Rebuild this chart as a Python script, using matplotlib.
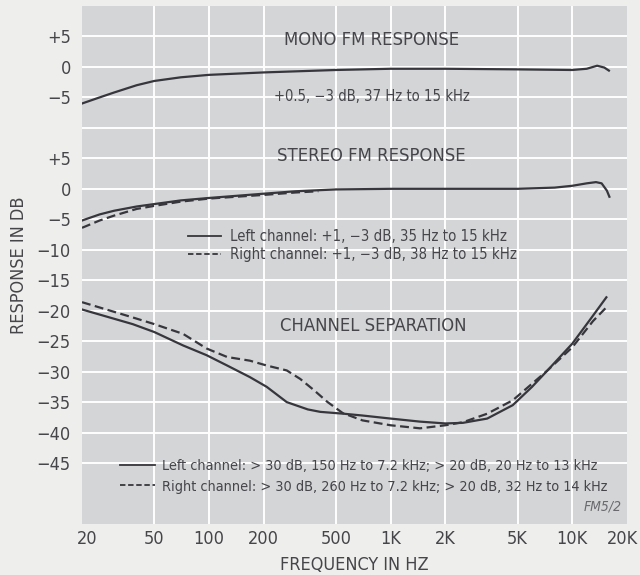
import numpy as np
import matplotlib
matplotlib.use("Agg")
import matplotlib.pyplot as plt
from matplotlib.lines import Line2D
from matplotlib.transforms import ScaledTranslation

plt.rcParams['font.family'] = ['Liberation Sans Narrow', 'DejaVu Sans']
plt.rcParams['font.stretch'] = 'condensed'
plt.rcParams['axes.unicode_minus'] = True

# --- data (frequency in Hz, response in dB) ---
mono_freq = [20, 25, 30, 40, 50, 70, 100, 200, 500, 1000, 2000, 5000, 10000, 12000, 13700, 15000, 15900]
mono_db = [-6.0, -5.0, -4.2, -3.0, -2.3, -1.7, -1.3, -0.9, -0.5, -0.3, -0.3, -0.4, -0.5, -0.3, 0.2, -0.1, -0.6]

stereo_left_freq = [20, 25, 30, 40, 50, 70, 100, 200, 300, 500, 1000, 2000, 5000, 8000, 10000, 12000, 13500, 14500, 15500, 16000]
stereo_left_db = [-5.2, -4.2, -3.6, -2.9, -2.5, -1.9, -1.5, -0.8, -0.4, -0.1, 0.0, 0.0, 0.0, 0.2, 0.5, 0.9, 1.1, 0.9, -0.3, -1.3]
stereo_right_freq = [20, 25, 30, 40, 50, 70, 100, 200, 300, 400]
stereo_right_db = [-6.4, -5.2, -4.4, -3.3, -2.8, -2.1, -1.6, -1.0, -0.6, -0.4]

sep_left_freq = [20, 38, 50, 72, 97, 126, 168, 208, 268, 350, 410, 550, 700, 1000, 1450, 2000, 2500, 3400, 4700, 6000, 7300, 10000, 12500, 15400]
sep_left_db = [-19.8, -22.2, -23.5, -25.7, -27.3, -29.0, -30.9, -32.5, -35.0, -36.2, -36.6, -36.9, -37.2, -37.7, -38.2, -38.5, -38.4, -37.7, -35.5, -32.5, -29.8, -25.4, -21.5, -17.8]
sep_right_freq = [20, 38, 50, 72, 97, 126, 168, 208, 268, 318, 377, 450, 545, 700, 1000, 1450, 2000, 2500, 3400, 4700, 7300, 10000, 13000, 15800]
sep_right_db = [-18.6, -21.1, -22.2, -23.8, -26.2, -27.6, -28.2, -29.0, -29.8, -31.2, -33.0, -35.0, -36.8, -38.0, -38.8, -39.3, -38.8, -38.3, -36.9, -34.7, -29.8, -26.0, -21.7, -19.1]

mono_offset = 20  # mono panel is stacked 20 dB above the stereo one

x_ticks = [20, 50, 100, 200, 500, 1000, 2000, 5000, 10000, 20000]
x_labels = ["20", "50", "100", "200", "500", "1K", "2K", "5K", "10K", "20K"]
y_ticks = [25, 20, 15, 5, 0, -5, -10, -15, -20, -25, -30, -35, -40, -45]
y_labels = ["+5", "0", "\u22125", "+5", "0", "\u22125", "\u221210", "\u221215", "\u221220",
            "\u221225", "\u221230", "\u221235", "\u221240", "\u221245"]

BG = "#eeeeec"
PLOT_BG = "#d3d5d6"
INK = "#36363c"
TEXT = "#45454a"

fig = plt.figure(figsize=(6.4, 5.75), dpi=100, facecolor=BG)
ax = fig.add_axes([82 / 640, 1 - 524 / 575, 545 / 640, 518 / 575])
ax.set_facecolor(PLOT_BG)
ax.set_xscale('log')
ax.set_xlim(20, 20000)
ax.set_ylim(-55, 30)

# white grid
for f in x_ticks[1:-1]:
    ax.axvline(f, color='white', lw=1.4, zorder=1)
for y in range(-45, 30, 5):
    ax.axhline(y, color='white', lw=1.4, zorder=1)

ax.plot(mono_freq, np.array(mono_db) + mono_offset, color=INK, lw=1.6, zorder=3)
ax.plot(stereo_left_freq, stereo_left_db, color=INK, lw=1.6, zorder=3)
ax.plot(stereo_right_freq, stereo_right_db, color=INK, lw=1.6, ls=(0, (4, 2)), zorder=3)
ax.plot(sep_left_freq, sep_left_db, color=INK, lw=1.6, zorder=3)
ax.plot(sep_right_freq, sep_right_db, color=INK, lw=1.6, ls=(0, (4, 2)), zorder=3)

ax.set_xticks(x_ticks)
ax.set_xticklabels(x_labels)
ax.xaxis.set_minor_locator(matplotlib.ticker.NullLocator())
ax.set_yticks(y_ticks)
ax.set_yticklabels(y_labels)
ax.tick_params(axis='both', length=0, labelsize=13, colors=TEXT)
ax.tick_params(axis='y', pad=8)
ax.tick_params(axis='x', pad=4)
for s in ax.spines.values():
    s.set_visible(False)

# end labels sit slightly inside the axis ends
xt = ax.get_xticklabels()
xt[0].set_transform(xt[0].get_transform() + ScaledTranslation(5 / 100, 0, fig.dpi_scale_trans))
xt[-1].set_transform(xt[-1].get_transform() + ScaledTranslation(-4 / 100, 0, fig.dpi_scale_trans))

ax.set_xlabel("FREQUENCY IN HZ", fontsize=13, color=TEXT, labelpad=6)
ax.set_ylabel("RESPONSE IN DB", fontsize=13, color=TEXT, labelpad=6)

# panel titles
tx = dict(transform=ax.transAxes, ha='center', va='center', color=TEXT)
ax.text(0.532, 0.935, "MONO FM RESPONSE", fontsize=13.2, **tx)
ax.text(0.532, 0.826, "+0.5, \u22123 dB, 37 Hz to 15 kHz", fontsize=10.6, **tx)
ax.text(0.530, 0.710, "STEREO FM RESPONSE", fontsize=13.2, **tx)
ax.text(0.535, 0.383, "CHANNEL SEPARATION", fontsize=13.2, **tx)

handles = [Line2D([], [], color=INK, lw=1.3), Line2D([], [], color=INK, lw=1.3, ls=(0, (3, 1.5)))]
leg_kw = dict(frameon=False, loc='upper left', borderpad=0, borderaxespad=0,
              handlelength=2.25, handletextpad=0.55, labelspacing=0.2, prop={'size': 10.7},
              labelcolor=TEXT, bbox_transform=fig.transFigure)
leg1 = ax.legend(handles, ["Left channel: +1, \u22123 dB, 35 Hz to 15 kHz",
                           "Right channel: +1, \u22123 dB, 38 Hz to 15 kHz"],
                 bbox_to_anchor=(188 / 640, 1 - 229 / 575), **leg_kw)
ax.add_artist(leg1)
leg_kw.update(prop={'size': 10.4}, labelspacing=0.45, handlelength=2.45, handletextpad=0.45)
ax.legend(handles, ["Left channel: > 30 dB, 150 Hz to 7.2 kHz; > 20 dB, 20 Hz to 13 kHz",
                    "Right channel: > 30 dB, 260 Hz to 7.2 kHz; > 20 dB, 32 Hz to 14 kHz"],
          bbox_to_anchor=(120 / 640, 1 - 459 / 575), **leg_kw)

ax.text(0.99, 0.02, "FM5/2", transform=ax.transAxes, ha='right', va='bottom',
        fontsize=10, style='italic', color="#6a6a6e")

fig.savefig("out.png", dpi=100, facecolor=BG)
